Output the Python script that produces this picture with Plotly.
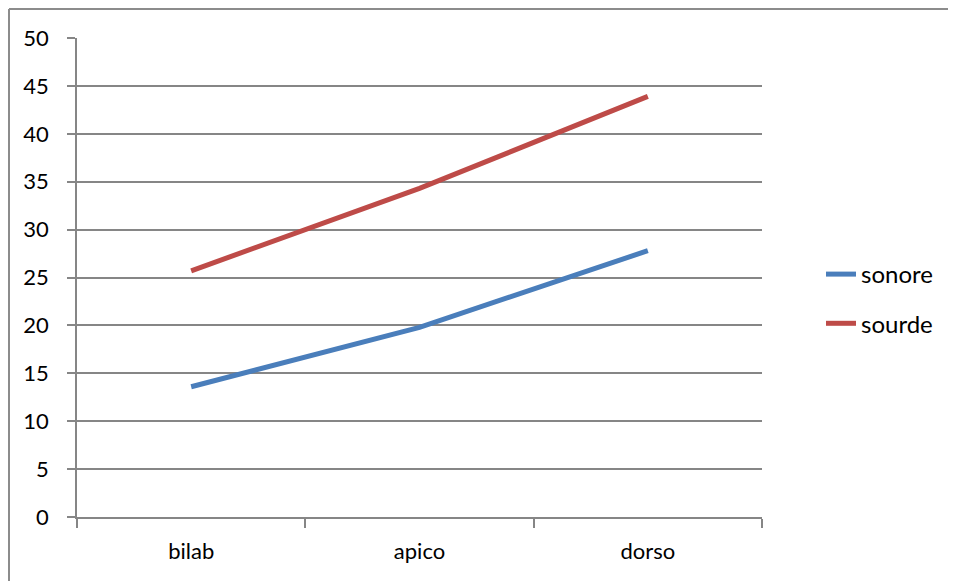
import plotly.graph_objects as go

categories = ['bilab', 'apico', 'dorso']
sonore = [13.6, 19.8, 27.8]
sourde = [25.7, 34.3, 43.9]

# page is offset by the 8px body margin
OFF = 8
W, H = 948, 573
L, R, T, B = 77 - OFF, W - (762 - OFF), 38 - OFF, H - (517 - OFF)
pw, ph = W - L - R, H - T - B

def px_x(x):
    return (x - OFF - L) / pw

def px_y(y):
    return (H - B - (y - OFF)) / ph

fig = go.Figure()
fig.add_trace(go.Scatter(x=categories, y=sonore, name='sonore', mode='lines',
                         line=dict(color='#4A7EBB', width=5), legendgroup='a'))
fig.add_trace(go.Scatter(x=categories, y=sourde, name='sourde', mode='lines',
                         line=dict(color='#BE4B48', width=5), legendgroup='b'))

# outer chart frame (only left and top edges visible)
frame = dict(type='line', xref='paper', yref='paper', line=dict(color='#8C8C8C', width=2))
fig.add_shape(**frame, x0=px_x(9), x1=px_x(9), y0=px_y(9), y1=px_y(581))
fig.add_shape(**frame, x0=px_x(9), x1=px_x(956), y0=px_y(9), y1=px_y(9))

fig.update_layout(
    width=W, height=H,
    margin=dict(l=L, r=R, t=T, b=B),
    plot_bgcolor='white', paper_bgcolor='white',
    font=dict(family='Lato, Open Sans, sans-serif', size=22, color='#000000'),
    showlegend=True,
    legend=dict(x=px_x(821), y=px_y(252), xanchor='left', yanchor='top',
                font=dict(size=24), traceorder='grouped', tracegroupgap=15,
                itemwidth=30, bgcolor='rgba(0,0,0,0)'),
)
fig.update_xaxes(type='category', range=[-0.5, 2.5], showgrid=False, showline=True,
                 linecolor='#868686', linewidth=1.5, ticks='outside', tickson='boundaries',
                 ticklen=9, tickcolor='#868686', tickwidth=1.5, ticklabelstandoff=14)
fig.update_yaxes(range=[0, 50], dtick=5, showgrid=True, gridcolor='#868686',
                 gridwidth=1.5, showline=True, linecolor='#868686', linewidth=1.5,
                 ticks='outside', ticklen=8, tickcolor='#868686', tickwidth=1.5,
                 ticklabelstandoff=14, zeroline=False)

fig.write_html('out.html', config={'displayModeBar': False})
